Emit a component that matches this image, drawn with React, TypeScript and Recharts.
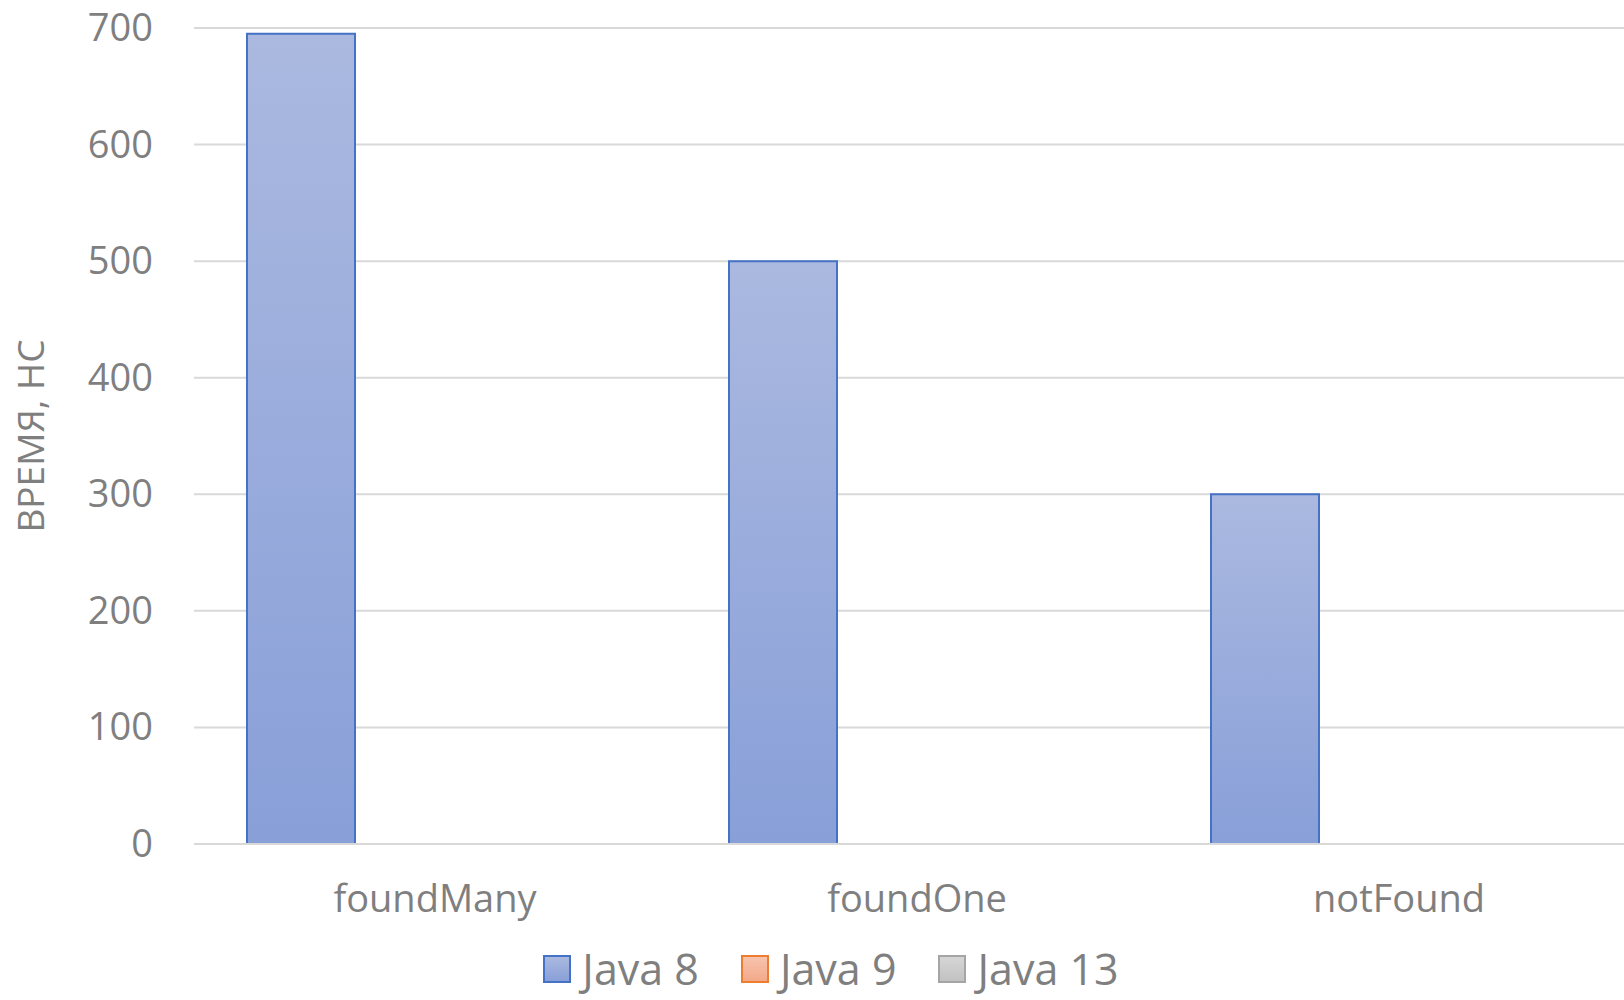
import { BarChart, Bar, XAxis, YAxis, CartesianGrid, Legend } from 'recharts';

// Benchmark timings per lookup scenario, nanoseconds
const categories = ['foundMany', 'foundOne', 'notFound'];
const java8 = [695, 500, 300];
const java9: (number | null)[] = [null, null, null];
const java13: (number | null)[] = [null, null, null];
const yTicks = [0, 100, 200, 300, 400, 500, 600, 700];

const FONT = '"Open Sans", sans-serif';
const TEXT = '#7f7f7f';
const GRID = '#d9d9d9';

const series = [
  { key: 'java8', name: 'Java 8', top: '#abb9e0', bottom: '#889fd8', stroke: '#4472c4' },
  { key: 'java9', name: 'Java 9', top: '#f7c3ad', bottom: '#f3a98a', stroke: '#ed7d31' },
  { key: 'java13', name: 'Java 13', top: '#d6d6d6', bottom: '#c2c2c2', stroke: '#a5a5a5' },
];

const data = categories.map((name, i) => ({
  name,
  java8: java8[i],
  java9: java9[i],
  java13: java13[i],
}));

function YTick({ x, y, payload }: any) {
  return (
    <text x={x} y={y + 13} textAnchor="end" fill={TEXT} fontSize={38} fontFamily={FONT}>
      {payload.value}
    </text>
  );
}

function XTick({ x, y, payload }: any) {
  return (
    <text x={x} y={y} textAnchor="middle" fill={TEXT} fontSize={38} fontFamily={FONT}>
      {payload.value}
    </text>
  );
}

function YLabel({ viewBox }: any) {
  const cx = 31;
  const cy = viewBox ? viewBox.y + viewBox.height / 2 : 435;
  return (
    <text
      x={cx}
      y={cy}
      dy="0.36em"
      transform={`rotate(-90, ${cx}, ${cy})`}
      textAnchor="middle"
      fill={TEXT}
      fontSize={37}
      fontFamily={FONT}
    >
      ВРЕМЯ, НС
    </text>
  );
}

function LegendContent() {
  return (
    <div style={{ display: 'flex', justifyContent: 'center', alignItems: 'center', height: 40 }}>
      {series.map((s, i) => (
        <div key={s.key} style={{ display: 'flex', alignItems: 'center', marginLeft: i ? 42 : 0 }}>
          <span
            style={{
              width: 24,
              height: 24,
              border: `2px solid ${s.stroke}`,
              background: `linear-gradient(${s.top}, ${s.bottom})`,
              marginRight: 11,
            }}
          />
          <span style={{ fontSize: 43, fontFamily: FONT, color: TEXT, lineHeight: '40px' }}>{s.name}</span>
        </div>
      ))}
    </div>
  );
}

export default function App() {
  return (
    <div
      style={{
        position: 'absolute',
        left: 0,
        top: 0,
        width: 1624,
        height: 1000,
        overflow: 'hidden',
        background: '#fff',
      }}
    >
      <BarChart
        width={1654}
        height={1000}
        data={data}
        margin={{ top: 28, right: 14, bottom: 0, left: 0 }}
        barSize={108}
        barGap={26}
      >
        <defs>
          {series.map((s) => (
            <linearGradient key={s.key} id={`fill-${s.key}`} x1="0" y1="0" x2="0" y2="1">
              <stop offset="0%" stopColor={s.top} />
              <stop offset="100%" stopColor={s.bottom} />
            </linearGradient>
          ))}
        </defs>
        <CartesianGrid horizontal vertical={false} stroke={GRID} strokeWidth={2} />
        <XAxis
          dataKey="name"
          height={156}
          tick={<XTick />}
          tickLine={false}
          tickSize={0}
          tickMargin={68}
          axisLine={{ stroke: GRID, strokeWidth: 2 }}
          interval={0}
        />
        <YAxis
          width={194}
          domain={[0, 700]}
          ticks={yTicks}
          tick={<YTick />}
          tickLine={false}
          tickSize={0}
          tickMargin={41}
          axisLine={false}
          label={<YLabel />}
        />
        <Legend
          layout="horizontal"
          verticalAlign="middle"
          align="center"
          content={<LegendContent />}
          wrapperStyle={{ top: 949, left: 4, width: 1654 }}
        />
        {series.map((s) => (
          <Bar
            key={s.key}
            dataKey={s.key}
            name={s.name}
            fill={`url(#fill-${s.key})`}
            stroke={s.stroke}
            strokeWidth={2}
            isAnimationActive={false}
          />
        ))}
      </BarChart>
    </div>
  );
}
